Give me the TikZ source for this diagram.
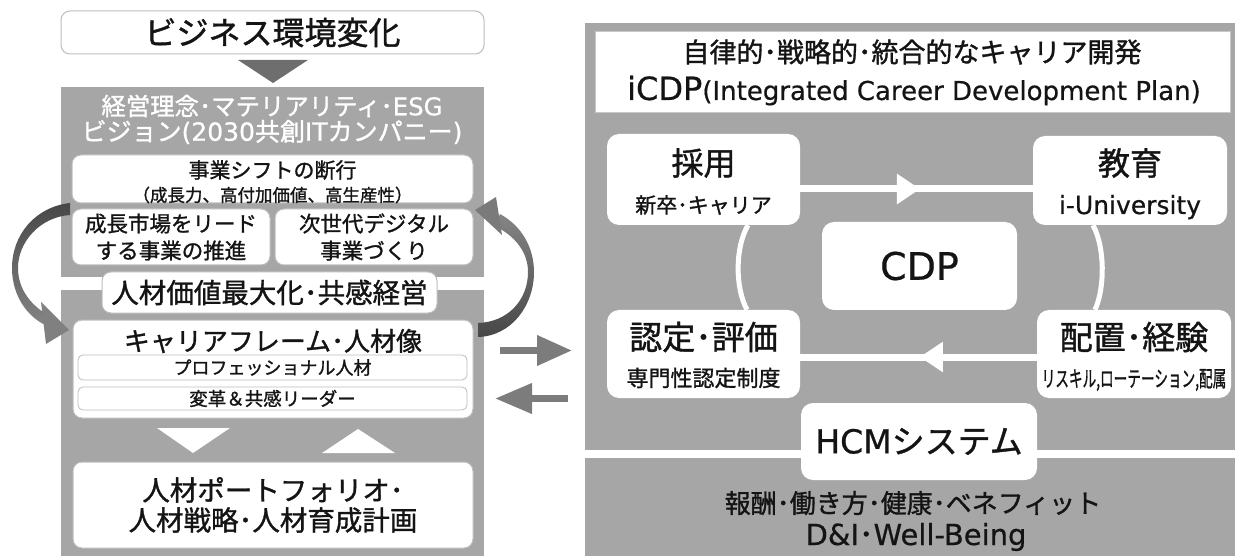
\documentclass[tikz,border=0pt]{standalone}
\usepackage{fontspec}
\setmainfont{Noto Sans CJK JP}[FakeBold=1.2]
\newfontfamily\lat{DejaVu Sans}[FakeBold=0.6]
\usepackage{graphicx}
\usetikzlibrary{calc,arrows.meta,decorations.markings}
\definecolor{panel}{HTML}{A6A6A6}
\definecolor{darktri}{HTML}{6E6E6E}
\definecolor{arrowgray}{HTML}{7C7C7C}
\definecolor{ink}{HTML}{141414}
\definecolor{boxline}{HTML}{BDBDBD}
\newcommand\fsz[1]{\fontsize{#1pt}{#1pt}\selectfont}
\tikzset{
  wbox/.style={draw=boxline, line width=1pt, fill=white, rounded corners=9pt, inner sep=0pt, text=ink},
  sbox/.style={draw=boxline, line width=0.8pt, fill=white, rounded corners=5pt, inner sep=0pt, text=ink},
  rbox/.style={fill=white, rounded corners=12pt, inner sep=0pt, text=ink},
  panelbox/.style={fill=panel, draw=none, inner sep=0pt},
  txt/.style={inner sep=0pt, text=ink},
  wtxt/.style={inner sep=0pt, text=white},
  flowline/.style={color=white, line width=7pt},
  ringline/.style={draw=white, line width=5pt},
}
\begin{document}
\begin{tikzpicture}[x=1pt,y=-1pt]
\useasboundingbox (0,0) rectangle (1235,556);

% ---------- left side ----------
\node[wbox, minimum width=423pt, minimum height=43pt, font=\fsz{32}] (biz) at (272.5,32.5) {ビジネス環境変化};
\fill[darktri] (238,60) -- (308,60) -- (273,83) -- cycle;

\node[panelbox, minimum width=423pt, minimum height=190pt] (upper) at (272.5,182) {};
\node[panelbox, minimum width=423pt, minimum height=266pt] (lower) at (272.5,423) {};

\node[wtxt, font=\fsz{24.4}] (t1) at (272,106) {経営理念･マテリアリティ･{\lat ESG}};
\node[wtxt, font=\fsz{25}] (t2) at (272,132) {ビジョン{\lat (2030}共創{\lat IT}カンパニー{\lat )}};

\node[wbox, minimum width=401pt, minimum height=48pt] (shift) at (272.5,179) {};
\node[txt, font=\fsz{21}] (shift1) at (272.5,170) {事業シフトの断行};
\node[txt, font=\fsz{17.5}] (shift2) at (272.5,195) {（成長力、高付加価値、高生産性）};

\node[wbox, minimum width=198pt, minimum height=56pt, align=center, font=\fontsize{21.5pt}{27pt}\selectfont] (lead) at (171,237) {成長市場をリード\\する事業の推進};
\node[wbox, minimum width=198pt, minimum height=56pt, align=center, font=\fontsize{21.5pt}{27pt}\selectfont] (next) at (374,237) {次世代デジタル\\事業づくり};

\node[wbox, minimum width=335pt, minimum height=41pt, font=\fsz{27.5}] (jinzai) at (269.5,292.5) {人材価値最大化･共感経営};

\node[wbox, minimum width=400pt, minimum height=98pt] (career) at (273,369) {};
\node[txt, font=\fsz{26}] (career1) at (273,341) {キャリアフレーム･人材像};
\node[sbox, minimum width=389pt, minimum height=25pt, font=\fsz{18}] (pro) at (272.5,367.5) {プロフェッショナル人材};
\node[sbox, minimum width=389pt, minimum height=23pt, font=\fsz{18.5}] (henkaku) at (272.5,398.5) {変革＆共感リーダー};

\fill[white] (157,428) -- (230,428) -- (193,453) -- cycle;
\fill[white] (322,453) -- (395,453) -- (358,429) -- cycle;

\node[wbox, minimum width=400pt, minimum height=86pt, align=center, font=\fontsize{27.5pt}{30pt}\selectfont] (portfolio) at (273,505) {人材ポートフォリオ･\\人材戦略･人材育成計画};

% curved arrows
\shade[top color=black!72, bottom color=black!48]
  (70,203) .. controls (35,207) and (12,235) .. (12,268)
  .. controls (12,298) and (30,320) .. (50,327) -- (48,315)
  .. controls (32,306) and (18,290) .. (18,268)
  .. controls (18,242) and (40,217) .. (70,215) -- cycle;
\fill[black!50] (69,330) -- (41,302) -- (46,344) -- cycle;

\shade[top color=black!48, bottom color=black!72]
  (478,323) .. controls (508,322) and (528,300) .. (528,272)
  .. controls (528,252) and (515,236) .. (495,226) -- (500,214)
  .. controls (522,226) and (534,248) .. (534,272)
  .. controls (534,305) and (512,336) .. (478,337) -- cycle;
\fill[black!52] (475,210) -- (496,197) -- (502,235) -- cycle;

% straight arrows between panels
\coordinate (ra1) at (500,350.5); \coordinate (ra2) at (572,350.5);
\coordinate (la1) at (568,398.5); \coordinate (la2) at (495,398.5);
\draw[arrowgray, line width=7pt, -{Triangle[length=35pt,width=29pt]}] (ra1) -- (ra2);
\draw[arrowgray, line width=7pt, -{Triangle[length=37pt,width=29pt]}] (la1) -- (la2);

% ---------- right side ----------
\node[panelbox, minimum width=650pt, minimum height=427pt] (rpanel) at (910,236.5) {};
\node[panelbox, minimum width=650pt, minimum height=98pt] (rlower) at (910,507) {};

\node[draw=black!22, line width=1pt, fill=white, minimum width=635pt, minimum height=81pt, inner sep=0pt] (header) at (912.5,72.5) {};
\node[txt, font=\fsz{27}] (h1) at (912,52) {自律的･戦略的･統合的なキャリア開発};
\node[txt, anchor=base] (h2) at (914,100) {{\fsz{32}\lat iCDP}{\fsz{26}\lat (Integrated Career Development Plan)}};

\node[rbox, minimum width=193pt, minimum height=91pt] (saiyo) at (703.5,179.5) {};
\node[rbox, minimum width=194pt, minimum height=89pt] (kyoiku) at (1130,180.5) {};
\node[rbox, minimum width=195pt, minimum height=88pt, font=\fsz{38}] (cdp) at (919.5,266) {\lat CDP};
\node[rbox, minimum width=193pt, minimum height=88pt] (nintei) at (703.5,354) {};
\node[rbox, minimum width=194pt, minimum height=88pt] (haichi) at (1134,354) {};

\coordinate (fyA) at (0,189); \coordinate (fyB) at (0,357);
\coordinate (lxA) at (748,0); \coordinate (lxB) at (747,0);
\coordinate (rxA) at (1093,0); \coordinate (rxB) at (1095,0);

\draw[flowline, postaction={decorate, decoration={markings, mark=at position 0.515 with {\arrow{Triangle[length=23pt,width=29pt]}}}}]
  (saiyo.east |- fyA) -- (kyoiku.west |- fyA);
\draw[flowline, postaction={decorate, decoration={markings, mark=at position 0.494 with {\arrow{Triangle[length=23pt,width=29pt]}}}}]
  (haichi.west |- fyB) -- (nintei.east |- fyB);
\draw[ringline] (saiyo.south -| lxA) .. controls +(-13,22) and +(-12,-22) .. (nintei.north -| lxB);
\draw[ringline] (kyoiku.south -| rxA) .. controls +(12,22) and +(10,-22) .. (haichi.north -| rxB);

\node[txt, font=\fsz{32}] (saiyo1) at (703.5,163) {採用};
\node[txt, font=\fsz{21}] (saiyo2) at (703.5,205) {新卒･キャリア};
\node[txt, font=\fsz{32}] (kyoiku1) at (1130,163) {教育};
\node[txt, font=\fsz{25}, anchor=base] (kyoiku2) at (1130,214) {\lat i-University};
\node[txt, font=\fsz{33}] (nintei1) at (703.5,337) {認定･評価};
\node[txt, font=\fsz{22}] (nintei2) at (703.5,378) {専門性認定制度};
\node[txt, font=\fsz{33}] (haichi1) at (1134,337) {配置･経験};
\node[txt, font=\fsz{22}] (haichi2) at (1134,380) {\scalebox{0.62}[1]{リスキル,ローテーション,配属}};

\node[rbox, minimum width=236pt, minimum height=77pt, font=\fsz{33}] (hcm) at (919,441.5) {{\lat HCM}システム};
\node[txt, font=\fsz{26}] (b1) at (913,503) {報酬･働き方･健康･ベネフィット};
\node[txt, font=\fsz{29}, anchor=base] (b2) at (916,545) {{\lat D\&I}･{\lat Well-Being}};
\end{tikzpicture}
\end{document}
